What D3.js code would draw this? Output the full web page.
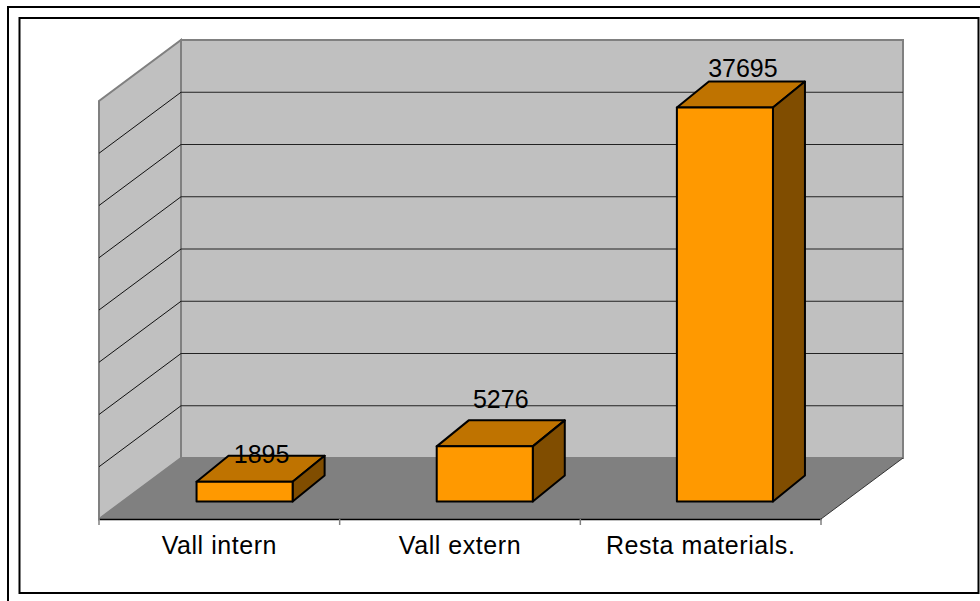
<!DOCTYPE html>
<html>
<head>
<meta charset="utf-8">
<script src="https://cdnjs.cloudflare.com/ajax/libs/d3/7.8.5/d3.min.js"></script>
<style>
  html, body { margin: 0; padding: 0; background: #fff; }
  svg { display: block; }
  text { font-family: "Liberation Sans", Arial, sans-serif; font-size: 25px; fill: #000; }
  .cat-axis text { letter-spacing: 0.55px; }
</style>
</head>
<body>
<div class="chart"></div>
<script>
var categories = ["Vall intern", "Vall extern", "Resta materials."];
var values = [1895, 5276, 37695];
var yTicks = [0, 5000, 10000, 15000, 20000, 25000, 30000, 35000, 40000];

var width = 980;
var height = 601;

// front edge of the floor and the shift to the back wall
var x0 = 99, x1 = 821, yFloor = 519, plotHeight = 418;
var depthX = 82, depthY = -61;
// bars stand part way into the floor and have their own depth
var barShiftX = 25.5, barShiftY = -17.5;
var barDepthX = 32, barDepthY = -26;
// the labels sit at uneven heights above the bars in the original
var labelLift = [19, 38, 31];
var labelShift = [17, 16, 18];

var xScale = d3.scaleBand()
    .domain(categories)
    .range([x0, x1])
    .paddingInner(0.6)
    .paddingOuter(0.3);

// bars run a touch tighter than the axis
var barScale = xScale.copy().range([x0, x1 - 1.5]);

var yScale = d3.scaleLinear()
    .domain([0, 40000])
    .range([yFloor, yFloor - plotHeight]);

var svg = d3.select(".chart").append("svg")
    .attr("width", width)
    .attr("height", height);

/* Outer frames */
svg.append("rect")
    .attr("x", 8).attr("y", 7).attr("width", 1000).attr("height", 700)
    .attr("fill", "#fff").attr("stroke", "#000").attr("stroke-width", 2);
svg.append("rect")
    .attr("x", 19.5).attr("y", 18).attr("width", 959).attr("height", 575)
    .attr("fill", "#fff").attr("stroke", "#000").attr("stroke-width", 2);

function poly(points) {
    return "M" + points.map(p => p.join(",")).join("L") + "Z";
}

var yTop = yScale(40000);

/* Walls and floor */
svg.append("path")
    .attr("d", poly([[x0, yFloor], [x0 + depthX, yFloor + depthY], [x0 + depthX, yTop + depthY], [x0, yTop]]))
    .attr("fill", "#c0c0c0").attr("stroke", "#808080").attr("stroke-width", 2);
svg.append("path")
    .attr("d", poly([[x0 + depthX, yFloor + depthY], [x1 + depthX, yFloor + depthY], [x1 + depthX, yTop + depthY], [x0 + depthX, yTop + depthY]]))
    .attr("fill", "#c0c0c0").attr("stroke", "#808080").attr("stroke-width", 2);
svg.append("path")
    .attr("d", poly([[x0, yFloor], [x1, yFloor], [x1 + depthX, yFloor + depthY], [x0 + depthX, yFloor + depthY]]))
    .attr("fill", "#808080");

/* Gridlines */
var grid = yTicks.slice(1, -1);
svg.selectAll(".grid-side")
    .data(grid).enter()
    .append("path")
    .attr("class", "grid-side")
    .attr("d", d => "M" + x0 + "," + yScale(d) + "L" + (x0 + depthX) + "," + (yScale(d) + depthY))
    .attr("stroke", "#111").attr("fill", "none");
svg.selectAll(".grid-back")
    .data(grid).enter()
    .append("path")
    .attr("class", "grid-back")
    .attr("d", d => "M" + (x0 + depthX) + "," + (yScale(d) + depthY) + "L" + (x1 + depthX) + "," + (yScale(d) + depthY))
    .attr("stroke", "#222").attr("fill", "none");

/* Floor edges */
svg.append("path")
    .attr("d", "M" + x1 + "," + yFloor + "L" + (x1 + depthX) + "," + (yFloor + depthY))
    .attr("stroke", "#333").attr("fill", "none");

/* Category axis */
var xAxis = d3.axisBottom(xScale).tickSize(0).tickPadding(17);
var axisG = svg.append("g")
    .attr("class", "cat-axis")
    .attr("transform", "translate(0," + yFloor + ")")
    .call(xAxis);
axisG.select(".domain").attr("stroke", "#000").attr("stroke-width", 1.5);
axisG.selectAll("text").attr("font-size", null).attr("font-family", null).attr("fill", null);

var tickEdges = d3.range(categories.length + 1).map(i => x0 + i * xScale.step());
svg.selectAll(".edge-tick")
    .data(tickEdges).enter()
    .append("line")
    .attr("class", "edge-tick")
    .attr("x1", d => d).attr("x2", d => d)
    .attr("y1", yFloor).attr("y2", yFloor + 6)
    .attr("stroke", "#808080").attr("stroke-width", 1.5);

/* Bars */
var bars = svg.selectAll(".bar")
    .data(values).enter()
    .append("g")
    .attr("class", "bar")
    .attr("stroke", "#000")
    .attr("stroke-width", 2)
    .attr("stroke-linejoin", "round");

var barX = (d, i) => barScale(categories[i]) + barShiftX;
var barW = barScale.bandwidth();
var barBottom = yFloor + barShiftY;
var barTop = d => barBottom - (yFloor - yScale(d));

bars.append("path")
    .attr("d", (d, i) => {
        var l = barX(d, i), t = barTop(d);
        return poly([[l, t], [l + barW, t], [l + barW + barDepthX, t + barDepthY], [l + barDepthX, t + barDepthY]]);
    })
    .attr("fill", "#bf7300");
bars.append("path")
    .attr("d", (d, i) => {
        var r = barX(d, i) + barW, t = barTop(d);
        return poly([[r, t], [r + barDepthX, t + barDepthY], [r + barDepthX, barBottom + barDepthY], [r, barBottom]]);
    })
    .attr("fill", "#804d00");
bars.append("rect")
    .attr("x", barX)
    .attr("y", barTop)
    .attr("width", barW)
    .attr("height", d => barBottom - barTop(d))
    .attr("fill", "#ff9900");

/* Value labels */
svg.selectAll(".value")
    .data(values).enter()
    .append("text")
    .attr("class", "value")
    .attr("text-anchor", "middle")
    .attr("x", (d, i) => barX(d, i) + barW / 2 + labelShift[i])
    .attr("y", (d, i) => barTop(d) - labelLift[i])
    .text(d => d);
</script>
</body>
</html>
